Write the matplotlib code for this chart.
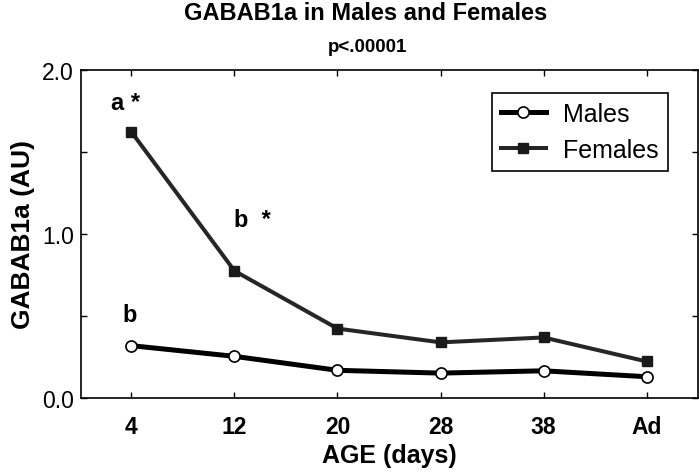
import numpy as np
import matplotlib
matplotlib.use('Agg')
import matplotlib.pyplot as plt

plt.rcParams['font.family'] = ['Liberation Sans', 'DejaVu Sans']

ages = ['4', '12', '20', '28', '38', 'Ad']
males = [0.32, 0.255, 0.17, 0.153, 0.167, 0.131]
females = [1.62, 0.775, 0.424, 0.34, 0.37, 0.224]

fig = plt.figure(figsize=(6.99, 4.77), dpi=100)
ax = fig.add_axes([0.1159, 0.163, 0.8827, 0.689])

x = np.arange(len(ages))
ax.plot(x, males, color='black', lw=3.6, marker='o', ms=8,
        mfc='white', mec='black', mew=1.2, label='Males', zorder=3)
ax.plot(x, females, color='#262626', lw=2.9, marker='s', ms=7.5,
        mfc='#1a1a1a', mec='#1a1a1a', label='Females', zorder=2)

ax.set_xlim(-0.49, 5.5)
ax.set_ylim(0, 2.0)
ax.set_xticks(x)
ax.set_xticklabels(ages, fontsize=16.5, fontweight='bold')
ax.set_yticks([0, 1.0, 2.0])
ax.set_yticklabels(['0.0', '1.0', '2.0'], fontsize=16.5)
ax.set_yticks([0.5, 1.5], minor=True)
ax.tick_params(which='both', direction='in', top=True, right=True,
               length=4, width=1)
ax.tick_params(axis='x', pad=12)
ax.tick_params(axis='y', pad=5)
for s in ax.spines.values():
    s.set_linewidth(1.2)

ax.set_xlabel('AGE (days)', fontsize=18, fontweight='bold', labelpad=4)
ax.set_ylabel('GABAB1a (AU)', fontsize=19, fontweight='bold', labelpad=5)

# significance marks
ax.text(-0.2, 1.80, 'a *', fontsize=17, fontweight='bold', va='center')
ax.text(1.0, 1.09, 'b  *', fontsize=17, fontweight='bold', va='center')
ax.text(-0.09, 0.51, 'b', fontsize=17, fontweight='bold', va='center')

leg = ax.legend(loc='upper left', bbox_to_anchor=(0.666, 0.929),
                fontsize=18, frameon=True, fancybox=False, framealpha=1,
                edgecolor='black', handlelength=1.8, handletextpad=0.7,
                borderaxespad=0, borderpad=0.35, labelspacing=0.5)
leg.get_frame().set_linewidth(1.2)

fig.text(366 / 699, 1 - 13 / 477, 'GABAB1a in Males and Females',
         fontsize=17, fontweight='bold', ha='center', va='center')
fig.text(368 / 699, 1 - 47 / 477, 'p<.00001', fontsize=13.5,
         fontweight='bold', ha='center', va='center')

fig.savefig('out.png', dpi=100)
